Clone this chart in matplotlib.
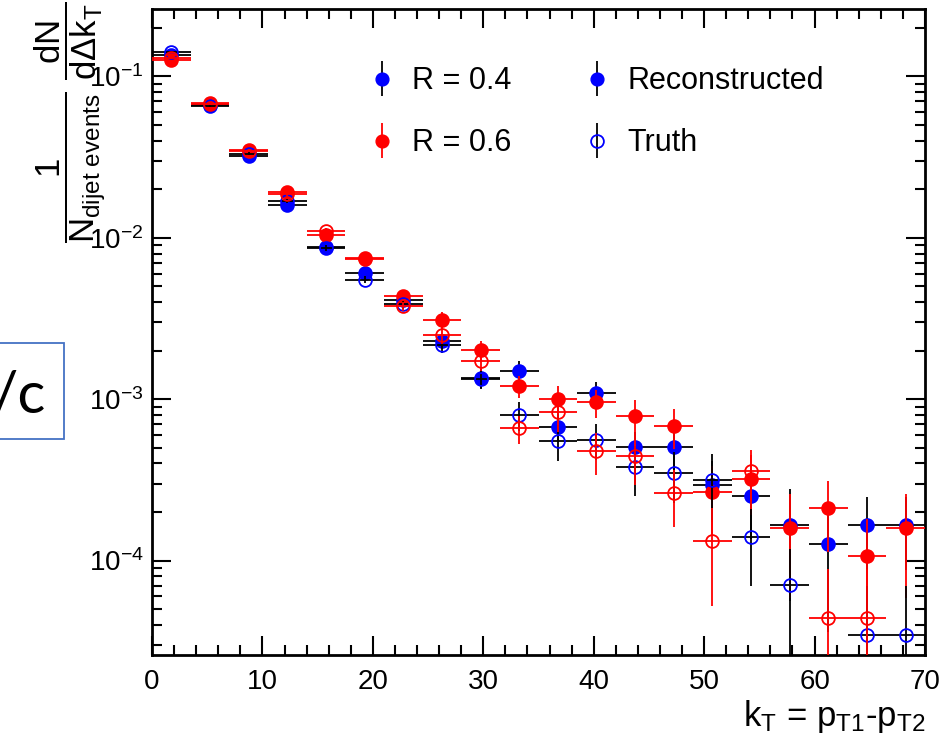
import numpy as np
import matplotlib
matplotlib.use('Agg')
import matplotlib.pyplot as plt
from matplotlib.patches import Rectangle
from matplotlib.ticker import MultipleLocator, LogLocator
from matplotlib.legend_handler import HandlerErrorbar

plt.rcParams['font.family'] = ['Liberation Sans', 'DejaVu Sans']
plt.rcParams['mathtext.fontset'] = 'custom'
plt.rcParams['mathtext.rm'] = 'Liberation Sans'
plt.rcParams['mathtext.it'] = 'Liberation Sans:italic'
plt.rcParams['mathtext.default'] = 'regular'

# kT binning: 20 bins of 3.5 GeV between 0 and 70
bin_edges = [0.0, 3.5, 7.0, 10.5, 14.0, 17.5, 21.0, 24.5, 28.0, 31.5, 35.0,
             38.5, 42.0, 45.5, 49.0, 52.5, 56.0, 59.5, 63.0, 66.5, 70.0]

# R = 0.4, reconstructed
r04_reco = [0.135, 0.0665, 0.0320, 0.0159, 0.0088, 0.0061, 0.0041, 0.00228,
            0.00135, 0.00150, 0.000675, 0.00109, 0.000503, 0.000503,
            0.000294, 0.000252, 0.000166, 0.000126, 0.000167, 0.000167]
r04_reco_err = [0.0014, 0.0010, 0.00064, 0.00048, 0.00035, 0.00030, 0.00029,
                0.00023, 0.00018, 0.00023, 0.000135, 0.00019, 0.000125,
                0.00014, 0.00012, 0.000115, 0.00011, 0.00009, 0.00008, 0.00008]

# R = 0.4, truth
r04_truth = [0.142, 0.066, 0.0333, 0.0169, 0.0087, 0.0055, 0.00387, 0.00216,
             0.00133, 0.00080, 0.000553, 0.000561, 0.000382, 0.000348,
             0.000318, 0.000140, 0.0000701, np.nan, 0.0000348, 0.0000348]
r04_truth_err = [0.0014, 0.0010, 0.00067, 0.0005, 0.00035, 0.00028, 0.00027,
                 0.00022, 0.00017, 0.00016, 0.00014, 0.00014, 0.00013,
                 0.00012, 0.00014, 0.00007, 0.000048, np.nan, 0.000035,
                 0.000035]

# R = 0.6, reconstructed
r06_reco = [0.127, 0.0685, 0.0352, 0.0192, 0.0104, 0.0075, 0.00434, 0.00311,
            0.00201, 0.00121, 0.00101, 0.000955, 0.000789, 0.000684,
            0.000265, 0.000321, 0.000159, 0.000213, 0.000107, 0.000159]
r06_reco_err = [0.0013, 0.0010, 0.0007, 0.00058, 0.00042, 0.00038, 0.0003,
                0.00037, 0.00028, 0.00019, 0.0002, 0.00019, 0.0002, 0.00019,
                0.00012, 0.00013, 0.0001, 0.0001, 0.000075, 0.0001]

# R = 0.6, truth
r06_truth = [0.1305, 0.068, 0.0347, 0.0188, 0.0110, 0.0074, 0.00377, 0.00249,
             0.00173, 0.00066, 0.000836, 0.00048, 0.000443, 0.000262,
             0.000132, 0.000359, np.nan, 0.0000443, 0.0000443, np.nan]
r06_truth_err = [0.0013, 0.0010, 0.0007, 0.00056, 0.00044, 0.00037, 0.00026,
                 0.0003, 0.00024, 0.00013, 0.00021, 0.00014, 0.00015, 0.0001,
                 0.00008, 0.000125, np.nan, 0.000044, 0.000044, np.nan]

MS = 9.2


def draw_hist(ax, y, err, color, bar_color, filled, z):
    edges = np.array(bin_edges)
    x = 0.5 * (edges[1:] + edges[:-1])
    xerr = 0.5 * (edges[1:] - edges[:-1])
    y = np.array(y, dtype=float)
    err = np.array(err, dtype=float)
    # keep the lower bar positive on the log axis
    low = np.minimum(err, 0.9999 * y)
    ax.errorbar(x, y, xerr=xerr, yerr=[low, err], fmt='o', ms=MS,
                mfc=color if filled else 'none', mec=color, mew=1.3,
                ecolor=bar_color, elinewidth=1.3, capsize=0, zorder=z)


fig = plt.figure(figsize=(9.41, 7.49), dpi=100)
ax = fig.add_axes([152 / 941, 1 - 655 / 749, 773 / 941, 646 / 749])

draw_hist(ax, r04_reco, r04_reco_err, '#0000ff', 'black', True, 3)
draw_hist(ax, r06_reco, r06_reco_err, '#ff0000', '#ff0000', True, 4)
draw_hist(ax, r04_truth, r04_truth_err, '#0000ff', 'black', False, 5)
draw_hist(ax, r06_truth, r06_truth_err, '#ff0000', '#ff0000', False, 6)

ax.set_yscale('log')
ax.set_xlim(0, 70)
ax.set_ylim(2.6e-5, 0.262)

ax.xaxis.set_major_locator(MultipleLocator(10))
ax.xaxis.set_minor_locator(MultipleLocator(2))
ax.yaxis.set_major_locator(LogLocator(base=10))
ax.yaxis.set_minor_locator(LogLocator(base=10, subs=np.arange(2, 10)))
ax.tick_params(which='both', direction='in', top=True, right=True,
               labelsize=20, width=1.5)
ax.tick_params(which='major', length=14)
ax.tick_params(which='minor', length=7.5)
ax.tick_params(axis='x', which='major', pad=10)
ax.tick_params(axis='y', which='major', pad=6)
for sp in ax.spines.values():
    sp.set_linewidth(2)

# legend: two columns, error-bar style entries
h04 = ax.errorbar([], [], yerr=[], fmt='o', ms=MS, mfc='#0000ff', mec='#0000ff',
                  ecolor='black', elinewidth=1.3)
h06 = ax.errorbar([], [], yerr=[], fmt='o', ms=MS, mfc='#ff0000', mec='#ff0000',
                  ecolor='#ff0000', elinewidth=1.3)
hreco = ax.errorbar([], [], yerr=[], fmt='o', ms=MS, mfc='#0000ff',
                    mec='#0000ff', ecolor='black', elinewidth=1.3)
htruth = ax.errorbar([], [], yerr=[], fmt='o', ms=MS, mfc='none',
                     mec='#0000ff', mew=1.3, ecolor='black', elinewidth=1.3)
fig.legend([h04, h06, hreco, htruth],
           ['R = 0.4', 'R = 0.6', 'Reconstructed', 'Truth'],
           ncol=2, frameon=False, fontsize=22, loc='upper left',
           bbox_to_anchor=(352 / 941, 1 - 51 / 749), borderpad=0,
           handlelength=0.95, handletextpad=0.5, columnspacing=2.35,
           labelspacing=1.05,
           handler_map={type(h04): HandlerErrorbar(xerr_size=0.58)})

ax.set_xlabel(r'$k_{T}$ = $p_{T1}$-$p_{T2}$', fontsize=25, ha='right',
              x=1.0, labelpad=2)
fig.text(70 / 941, 1 - 2 / 749,
         r'$\dfrac{1}{N_{dijet\ events}}\ \dfrac{dN}{d\Delta k_{T}}$',
         rotation=90, ha='center', va='top', fontsize=25)

# framed "/c" text box at the left edge
fig.add_artist(Rectangle((-0.01, 1 - 439 / 749), 73 / 941, 96 / 749,
                         transform=fig.transFigure, fill=False,
                         edgecolor='#4472c4', lw=1.3))
fig.text(45 / 941, 1 - 413 / 749, '/c', fontsize=42, family='Lato',
         ha='right', va='baseline')

fig.savefig('out.png', dpi=100)
